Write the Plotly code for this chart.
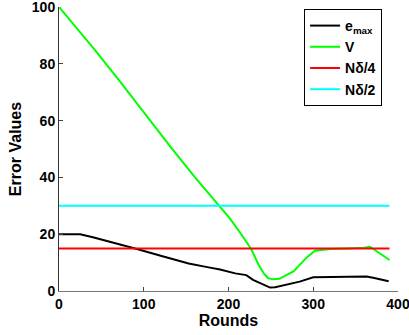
import plotly.graph_objects as go

# Data
emax_x = [0, 10, 25, 40, 54, 75, 93, 120, 153, 175, 190, 208, 221, 229, 240, 249, 255, 265, 275, 284, 300, 320, 340, 363, 372, 383, 389]
emax_y = [20.0, 20.0, 20.0, 18.9, 17.8, 16.3, 14.7, 12.4, 9.7, 8.4, 7.6, 6.2, 5.6, 3.9, 2.4, 1.2, 1.3, 2.0, 2.6, 3.3, 4.8, 4.9, 5.0, 5.1, 4.6, 3.9, 3.4]

v_x = [0, 20, 42, 70, 107, 133, 160, 189, 202, 215, 227, 235, 242, 247, 253, 260, 269, 277, 284, 293, 302, 320, 340, 360, 367, 378, 390]
v_y = [100.0, 93.0, 85.0, 74.5, 60.2, 50.2, 40.2, 29.7, 25.4, 20.0, 14.7, 9.5, 6.0, 4.5, 4.1, 4.3, 5.6, 7.0, 9.2, 12.0, 14.2, 14.8, 15.0, 15.2, 15.6, 13.5, 10.9]

ref_x = [0, 390]
n_delta_4 = [15, 15]
n_delta_2 = [30, 30]

x_ticks = [0, 100, 200, 300, 400]
y_ticks = [0, 20, 40, 60, 80, 100]

font_family = "Liberation Sans, Arial, sans-serif"

fig = go.Figure()
fig.add_trace(go.Scatter(x=emax_x, y=emax_y, mode="lines", name="e<sub>max</sub>",
                         line=dict(color="black", width=2)))
fig.add_trace(go.Scatter(x=v_x, y=v_y, mode="lines", name="V",
                         line=dict(color="#00ff00", width=2)))
fig.add_trace(go.Scatter(x=ref_x, y=n_delta_4, mode="lines", name="Nδ/4",
                         line=dict(color="#ff0000", width=2)))
fig.add_trace(go.Scatter(x=ref_x, y=n_delta_2, mode="lines", name="Nδ/2",
                         line=dict(color="#00ffff", width=2)))

fig.update_layout(
    width=409, height=335,
    margin=dict(l=59, r=11, t=7, b=44, autoexpand=False),
    paper_bgcolor="white", plot_bgcolor="white",
    font=dict(family=font_family, size=14, color="black", weight="bold"),
    legend=dict(x=0.723, y=0.993, xanchor="left", yanchor="top",
                bordercolor="black", borderwidth=1, bgcolor="white",
                font=dict(size=14, family=font_family, weight="bold"),
                tracegroupgap=0, itemwidth=30),
    showlegend=True,
)
fig.update_xaxes(range=[0, 400], tickvals=x_ticks, ticks="inside", ticklen=4,
                 tickcolor="#444", showline=True, linecolor="#777", linewidth=1,
                 showgrid=False, zeroline=False, ticklabeloverflow="allow",
                 tickfont=dict(size=14, weight="bold"),
                 title=dict(text="Rounds", font=dict(size=16, weight="bold"), standoff=4))
fig.update_yaxes(range=[0, 100], tickvals=y_ticks, ticks="inside", ticklen=4,
                 tickcolor="#444", showline=True, linecolor="#333", linewidth=1,
                 showgrid=False, zeroline=False, ticklabeloverflow="allow",
                 tickfont=dict(size=14, weight="bold"),
                 title=dict(text="Error Values", font=dict(size=16, weight="bold"), standoff=6))

fig.write_html("out.html", config={"displayModeBar": False},
               post_script="document.body.style.margin='0';")
